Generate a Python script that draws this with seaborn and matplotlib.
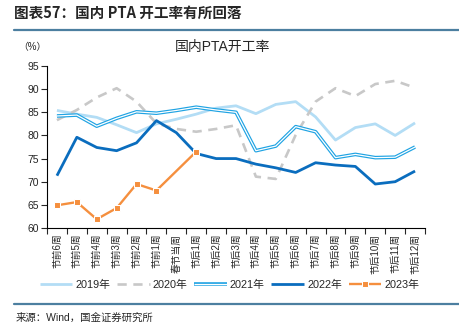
import numpy as np
import pandas as pd
import matplotlib
matplotlib.use("Agg")
import matplotlib.pyplot as plt
import matplotlib.patheffects as pe
from matplotlib.lines import Line2D
import seaborn as sns

categories = ["节前6周", "节前5周", "节前4周", "节前3周", "节前2周", "节前1周", "春节当周",
              "节后1周", "节后2周", "节后3周", "节后4周", "节后5周", "节后6周", "节后7周",
              "节后8周", "节后9周", "节后10周", "节后11周", "节后12周"]
y2019 = [85.4, 84.6, 83.9, 82.3, 80.6, 82.5, 83.5, 84.6, 85.9, 86.4, 84.7, 86.7, 87.3, 84.0, 79.0, 81.7, 82.5, 80.0, 82.7]
y2020 = [83.3, 85.5, 88.2, 90.2, 87.3, 82.6, 81.4, 80.8, 81.4, 82.2, 71.1, 70.6, 80.1, 87.3, 90.2, 88.5, 91.1, 91.8, 90.3]
y2021 = [84.2, 84.4, 82.0, 83.7, 85.1, 84.8, 85.4, 86.1, 85.5, 85.0, 76.7, 77.7, 81.9, 80.8, 75.2, 75.9, 75.2, 75.3, 77.5]
y2022 = [71.3, 79.6, 77.4, 76.7, 78.4, 83.2, 80.6, 76.1, 75.0, 75.0, 73.8, 73.0, 72.0, 74.1, 73.6, 73.3, 69.5, 70.0, 72.3]
y2023 = [64.9, 65.6, 61.9, 64.3, 69.5, 68.1, np.nan, 76.5] + [np.nan] * 11
yticks = [60, 65, 70, 75, 80, 85, 90, 95]

sns.set_style("white")
plt.rcParams['font.family'] = ['Liberation Sans', 'Noto Sans CJK SC']
plt.rcParams['axes.unicode_minus'] = False

fig = plt.figure(figsize=(4.59, 3.30), dpi=100)
ax = fig.add_axes([47/459, 1-228/330, (425-47)/459, (228-66)/330])

x = np.arange(len(categories))
series = {"2019年": y2019, "2020年": y2020, "2021年": y2021, "2022年": y2022, "2023年": y2023}
frames = []
for name, vals in series.items():
    frames.append(pd.DataFrame({"x": x, "y": vals, "year": name}))
df = pd.concat(frames).dropna()

styles = {
    "2019年": dict(color="#B3DDF5", lw=2.0),
    "2020年": dict(color="#C8C8C8", lw=1.9, dashes=(3.5, 2.5)),
    "2021年": dict(color="#1FA3E3", lw=2.6),
    "2022年": dict(color="#0A6DBE", lw=2.0),
    "2023年": dict(color="#F58F3E", lw=1.7, marker="s", markersize=5),
}
handles = []
for name in series:
    d = df[df.year == name]
    st = dict(styles[name])
    dashes = st.pop("dashes", None)
    sns.lineplot(data=d, x="x", y="y", ax=ax, legend=False, **st)
    line = ax.lines[-1]
    if dashes:
        line.set_dashes(dashes)
    if name == "2021年":
        line.set_path_effects([pe.Stroke(linewidth=2.6, foreground="#1FA3E3"),
                               pe.Stroke(linewidth=0.9, foreground="white")])
    line.set_solid_capstyle("butt")
    handles.append(line)

ax.set_xlim(-0.5, len(categories) - 0.5)
ax.set_ylim(60, 95)
ax.set_yticks(yticks)
ax.set_xticks(x)
ax.set_xticklabels(categories, rotation=90, fontsize=7)
ax.set_xticks(np.arange(-0.5, len(categories), 1), minor=True)
ax.tick_params(axis="x", which="major", length=0, pad=4)
ax.tick_params(axis="x", which="minor", length=4, width=0.8, direction="out", bottom=True)
ax.tick_params(axis="y", length=4, width=0.8, direction="out", left=True, labelsize=7.5, pad=2)
for s in ["top", "right"]:
    ax.spines[s].set_visible(False)
for s in ["left", "bottom"]:
    ax.spines[s].set_color("black")
    ax.spines[s].set_linewidth(0.8)
ax.set_xlabel("")
ax.set_ylabel("")

leg = fig.legend(handles=handles, labels=list(series.keys()), loc="center",
                 bbox_to_anchor=(0.5, 1-285/330), ncol=5, frameon=False,
                 fontsize=7.8, handlelength=3.0, columnspacing=0.6, handletextpad=0.3)

fig.text(14/459, 1-13/330, "图表57：国内 PTA 开工率有所回落", fontsize=10.5, fontweight="bold",
         fontstyle="italic", va="center", ha="left", family=['Noto Sans CJK SC'])
fig.add_artist(Line2D([14/459, 1.0], [1-30/330, 1-30/330], transform=fig.transFigure,
                      color="#4C7FA0", lw=1.6))
fig.text(18/459, 1-47/330, "（%）", fontsize=7, va="center", ha="left")
fig.text(222/459, 1-47/330, "国内PTA开工率", fontsize=10, va="center", ha="center")
fig.add_artist(Line2D([14/459, 1.0], [1-304/330, 1-304/330], transform=fig.transFigure,
                      color="#4C7FA0", lw=1.6))
fig.text(16/459, 1-318/330, "来源：Wind，国金证券研究所", fontsize=7.5, va="center", ha="left")

fig.savefig("out.png", dpi=100)
